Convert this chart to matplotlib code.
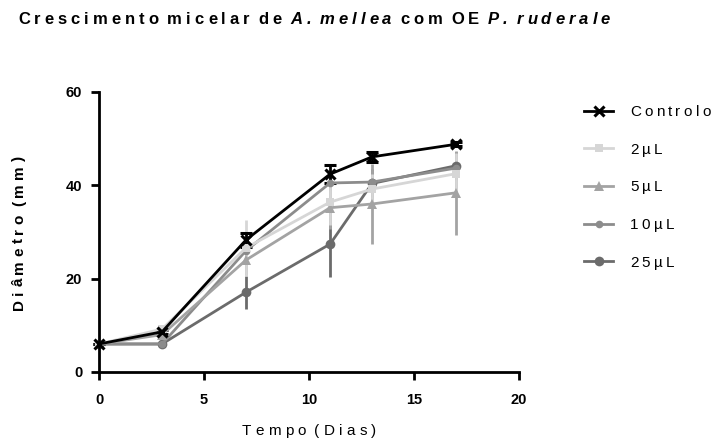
import matplotlib
matplotlib.use("Agg")
import matplotlib.pyplot as plt
from matplotlib.lines import Line2D
from matplotlib.text import Annotation

plt.rcParams['font.family'] = ['Liberation Sans', 'DejaVu Sans']

# Diametro micelar (mm) por dia, media e desvio
dias = [0, 3, 7, 11, 13, 17]
series = ['Controlo', '2µL', '5µL', '10µL', '25µL']
medias = {
    'Controlo': [6.0, 8.6, 28.3, 42.4, 46.1, 48.8],
    '2µL': [6.0, 9.2, 26.6, 36.4, 39.2, 42.5],
    '5µL': [6.0, 8.0, 24.0, 35.2, 36.0, 38.4],
    '10µL': [6.0, 6.0, 26.0, 40.5, 40.7, 43.7],
    '25µL': [6.0, 6.0, 17.1, 27.4, 40.4, 44.2],
}
desvios = {
    'Controlo': [0.0, 0.4, 1.5, 2.0, 1.0, 0.4],
    '2µL': [0.0, 0.5, 6.0, 5.0, 3.3, 4.5],
    '5µL': [0.0, 0.5, 3.3, 4.5, 8.5, 9.0],
    '10µL': [0.0, 0.3, 2.5, 1.5, 2.5, 2.0],
    '25µL': [0.0, 0.3, 3.5, 7.0, 3.0, 3.0],
}

estilos = {
    'Controlo': dict(color='black', marker='x', ms=7, mew=2.2),
    '2µL': dict(color='#d6d6d6', marker='s', ms=6, mew=0),
    '5µL': dict(color='#a3a3a3', marker='^', ms=7, mew=0),
    '10µL': dict(color='#8c8c8c', marker='o', ms=5.5, mew=0),
    '25µL': dict(color='#6b6b6b', marker='o', ms=7, mew=0),
}


def texto_espacado(fig, x, y, partes, size, track=2.4, rotation=0, first=None):
    """Escreve o texto letra a letra com espacamento extra (track, em pt)."""
    prev = first
    extra = 0.0
    for s, props in partes:
        for ch in s:
            if ch == ' ':
                extra += 0.28 * size
                continue
            if prev is None:
                if rotation == 90:
                    prev = fig.text(x, y, ch, rotation=90, ha='center', va='bottom',
                                    fontsize=size, **props)
                else:
                    prev = fig.text(x, y, ch, ha='left', va='baseline',
                                    fontsize=size, **props)
                continue
            if rotation == 90:
                a = Annotation(ch, xy=(0.5, 1), xycoords=prev,
                               xytext=(0, track + extra), textcoords='offset points',
                               rotation=90, ha='center', va='bottom', fontsize=size, **props)
            else:
                a = Annotation(ch, xy=(1, 0), xycoords=prev,
                               xytext=(track + extra, 0), textcoords='offset points',
                               ha='left', va='bottom', fontsize=size, **props)
            fig.add_artist(a)
            prev = a
            extra = 0.0
    return prev


fig = plt.figure(figsize=(7.14, 4.41), dpi=100)
ax = fig.add_axes([0.1387, 0.1565, 0.727 - 0.1387, 0.7914 - 0.1565])

for nome in reversed(series):
    st = estilos[nome]
    eb = ax.errorbar(dias, medias[nome], yerr=desvios[nome], color=st['color'],
                     lw=2, elinewidth=2, capsize=4, capthick=2,
                     marker=st['marker'], ms=st['ms'], mew=st['mew'],
                     mec=st['color'], mfc=st['color'], clip_on=False)
    for art in eb.lines[1] + eb.lines[2]:
        art.set_clip_on(False)

ax.set_xlim(0, 20)
ax.set_ylim(0, 60)
ax.set_xticks([0, 5, 10, 15, 20])
ax.set_yticks([0, 20, 40, 60])
for s in ['top', 'right']:
    ax.spines[s].set_visible(False)
for s in ['left', 'bottom']:
    ax.spines[s].set_linewidth(2)
ax.tick_params(width=2, length=6, labelsize=10.5)
ax.tick_params(axis='x', pad=9)
ax.tick_params(axis='y', pad=6)
for lab in ax.get_xticklabels() + ax.get_yticklabels():
    lab.set_fontweight('bold')

# legenda so com linha e marcador
handles = []
for nome in series:
    st = estilos[nome]
    handles.append(Line2D([], [], color=st['color'], lw=2, marker=st['marker'],
                          ms=st['ms'], mew=st['mew'], mec=st['color'], mfc=st['color']))
leg = ax.legend(handles, series, loc='upper left',
                bbox_to_anchor=(0.818, 0.762), bbox_transform=fig.transFigure,
                frameon=False, borderpad=0, borderaxespad=0, fontsize=11,
                handlelength=1.9, handletextpad=1.1, labelspacing=1.55)
for t in leg.get_texts():
    s = t.get_text()
    t.set_text(s[0])
    texto_espacado(fig, 0, 0, [(s[1:], {})], 11, first=t)

bold = dict(fontweight='bold')
bold_it = dict(fontweight='bold', fontstyle='italic')
texto_espacado(fig, 18 / 714, 0.9456,
               [('Crescimento micelar de ', bold), ('A. mellea', bold_it),
                (' com OE ', bold), ('P. ruderale', bold_it)], 12, track=2.9)
texto_espacado(fig, 242 / 714, 0.0136, [('Tempo (Dias)', {})], 11, track=3.0)
texto_espacado(fig, 19 / 714, 0.297, [('Diâmetro (mm)', bold)], 11, track=3.0,
               rotation=90)

fig.savefig('out.png', dpi=100)
